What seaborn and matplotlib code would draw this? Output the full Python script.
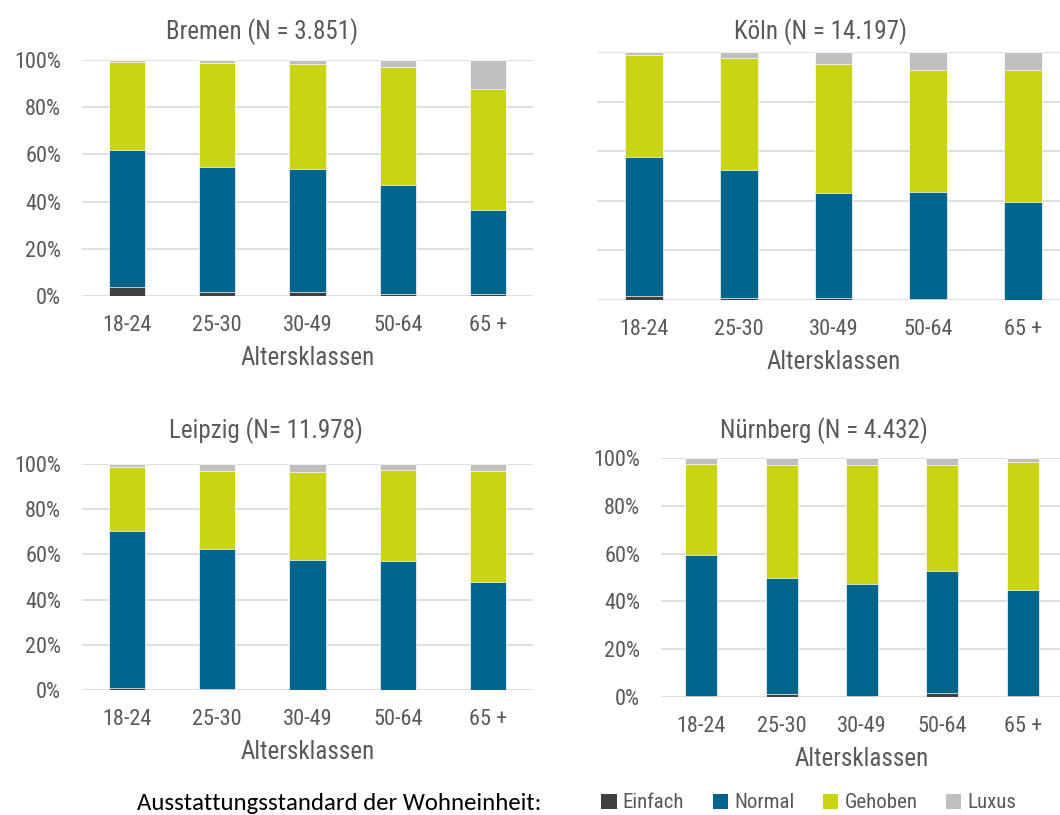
import numpy as np
import pandas as pd
import matplotlib
matplotlib.use("Agg")
import matplotlib.pyplot as plt
from matplotlib.patches import Patch
import seaborn as sns

# --- data (shares in %) ---------------------------------------------------
age_groups = ["18-24", "25-30", "30-49", "50-64", "65 +"]
levels = ["Einfach", "Normal", "Gehoben", "Luxus"]

bremen_einfach = [3.7, 1.6, 1.8, 1.0, 0.7]
bremen_normal = [58.2, 53.1, 52.0, 46.0, 35.7]
bremen_gehoben = [37.4, 43.9, 44.6, 50.0, 51.2]
bremen_luxus = [0.7, 1.4, 1.6, 3.0, 12.4]

koeln_einfach = [1.5, 0.7, 0.7, 0.3, 0.2]
koeln_normal = [56.2, 51.7, 42.4, 43.2, 39.3]
koeln_gehoben = [40.9, 45.1, 52.2, 49.1, 53.1]
koeln_luxus = [1.4, 2.5, 4.7, 7.4, 7.4]

leipzig_einfach = [0.8, 0.4, 0.2, 0.2, 0.1]
leipzig_normal = [69.7, 62.1, 57.5, 57.0, 47.8]
leipzig_gehoben = [28.0, 34.2, 38.8, 40.0, 48.9]
leipzig_luxus = [1.5, 3.3, 3.5, 2.8, 3.3]

nuernberg_einfach = [0.5, 1.4, 0.5, 1.8, 0.3]
nuernberg_normal = [59.0, 48.5, 46.8, 50.9, 44.5]
nuernberg_gehoben = [38.0, 47.3, 49.8, 44.4, 53.7]
nuernberg_luxus = [2.5, 2.8, 2.9, 2.9, 1.5]

city_titles = ["Bremen (N = 3.851)", "Köln (N = 14.197)",
               "Leipzig (N= 11.978)", "Nürnberg (N = 4.432)"]
x_label = "Altersklassen"
legend_title = "Ausstattungsstandard der Wohneinheit:"
y_ticks = [0, 20, 40, 60, 80, 100]

# --- style ------------------------------------------------------------------
sns.set_style("white")
plt.rcParams["font.family"] = ["Roboto Condensed", "DejaVu Sans"]
label_family = ["Carlito", "DejaVu Sans"]

text_color = "#595959"
grid_color = "#D9D9D9"
colors = {"Einfach": "#404040", "Normal": "#00658D",
          "Gehoben": "#C8D414", "Luxus": "#BFBFBF"}

W, H = 1060, 815
fig = plt.figure(figsize=(W / 100, H / 100), dpi=100)


def px_axes(left, right, top, bottom):
    return fig.add_axes([left / W, 1 - bottom / H, (right - left) / W, (bottom - top) / H])


panels = [
    dict(data=[bremen_einfach, bremen_normal, bremen_gehoben, bremen_luxus],
         box=(82, 533, 60, 296), ylabels=True, title_xy=(262, 32)),
    dict(data=[koeln_einfach, koeln_normal, koeln_gehoben, koeln_luxus],
         box=(597, 1070, 52, 300), ylabels=False, title_xy=(820, 32)),
    dict(data=[leipzig_einfach, leipzig_normal, leipzig_gehoben, leipzig_luxus],
         box=(82, 533, 464, 690), ylabels=True, title_xy=(266, 431)),
    dict(data=[nuernberg_einfach, nuernberg_normal, nuernberg_gehoben, nuernberg_luxus],
         box=(661, 1063, 458, 697), ylabels=True, title_xy=(824, 431)),
]

for title, panel in zip(city_titles, panels):
    ax = px_axes(*panel["box"])
    ax_h = panel["box"][3] - panel["box"][2]
    df = pd.DataFrame(dict(zip(levels, panel["data"])), index=age_groups)
    cum = df.cumsum(axis=1)
    # stacked bars: draw cumulative totals from the top segment downwards
    for level in reversed(levels):
        sns.barplot(x=age_groups, y=cum[level].values, order=age_groups,
                    color=colors[level], width=0.4, saturation=1,
                    edgecolor="white", linewidth=0.5, ax=ax, zorder=3)
    ax.set_xlim(-0.5, 4.5)
    ax.set_ylim(0, 100)
    ax.set_yticks(y_ticks)
    ax.yaxis.grid(True, color=grid_color, linewidth=1.2, zorder=0)
    ax.set_axisbelow(True)
    for s in ax.spines.values():
        s.set_visible(False)
    if panel["ylabels"]:
        ax.set_yticklabels([f"{v}%" for v in y_ticks])
    else:
        ax.set_yticklabels([])
    ax.tick_params(axis="y", length=0, pad=15, labelsize=16, labelcolor=text_color)
    ax.tick_params(axis="x", length=0, pad=14, labelsize=16, labelcolor=text_color)
    ax.set_xlabel(x_label, fontsize=18, color=text_color)
    ax.xaxis.set_label_coords(0.5, -62 / ax_h)
    ax.xaxis.label.set_va("center")
    ax.set_ylabel("")
    tx, ty = panel["title_xy"]
    fig.text(tx / W, 1 - ty / H, title, ha="center", va="center",
             fontsize=18, color=text_color)

# --- legend -----------------------------------------------------------------
fig.text(137 / W, 1 - 803 / H, legend_title, ha="left", va="center",
         fontsize=17.8, color="black", family=label_family)
handles = [Patch(facecolor=colors[l], edgecolor="none", label=l) for l in levels]
fig.legend(handles=handles, loc="center left", bbox_to_anchor=(601 / W, 1 - 803 / H),
           ncol=4, frameon=False, fontsize=15, labelcolor=text_color,
           handlelength=0.75, handleheight=0.75, handletextpad=0.3,
           columnspacing=1.35, borderaxespad=0, borderpad=0)

fig.savefig("out.png", dpi=100)
